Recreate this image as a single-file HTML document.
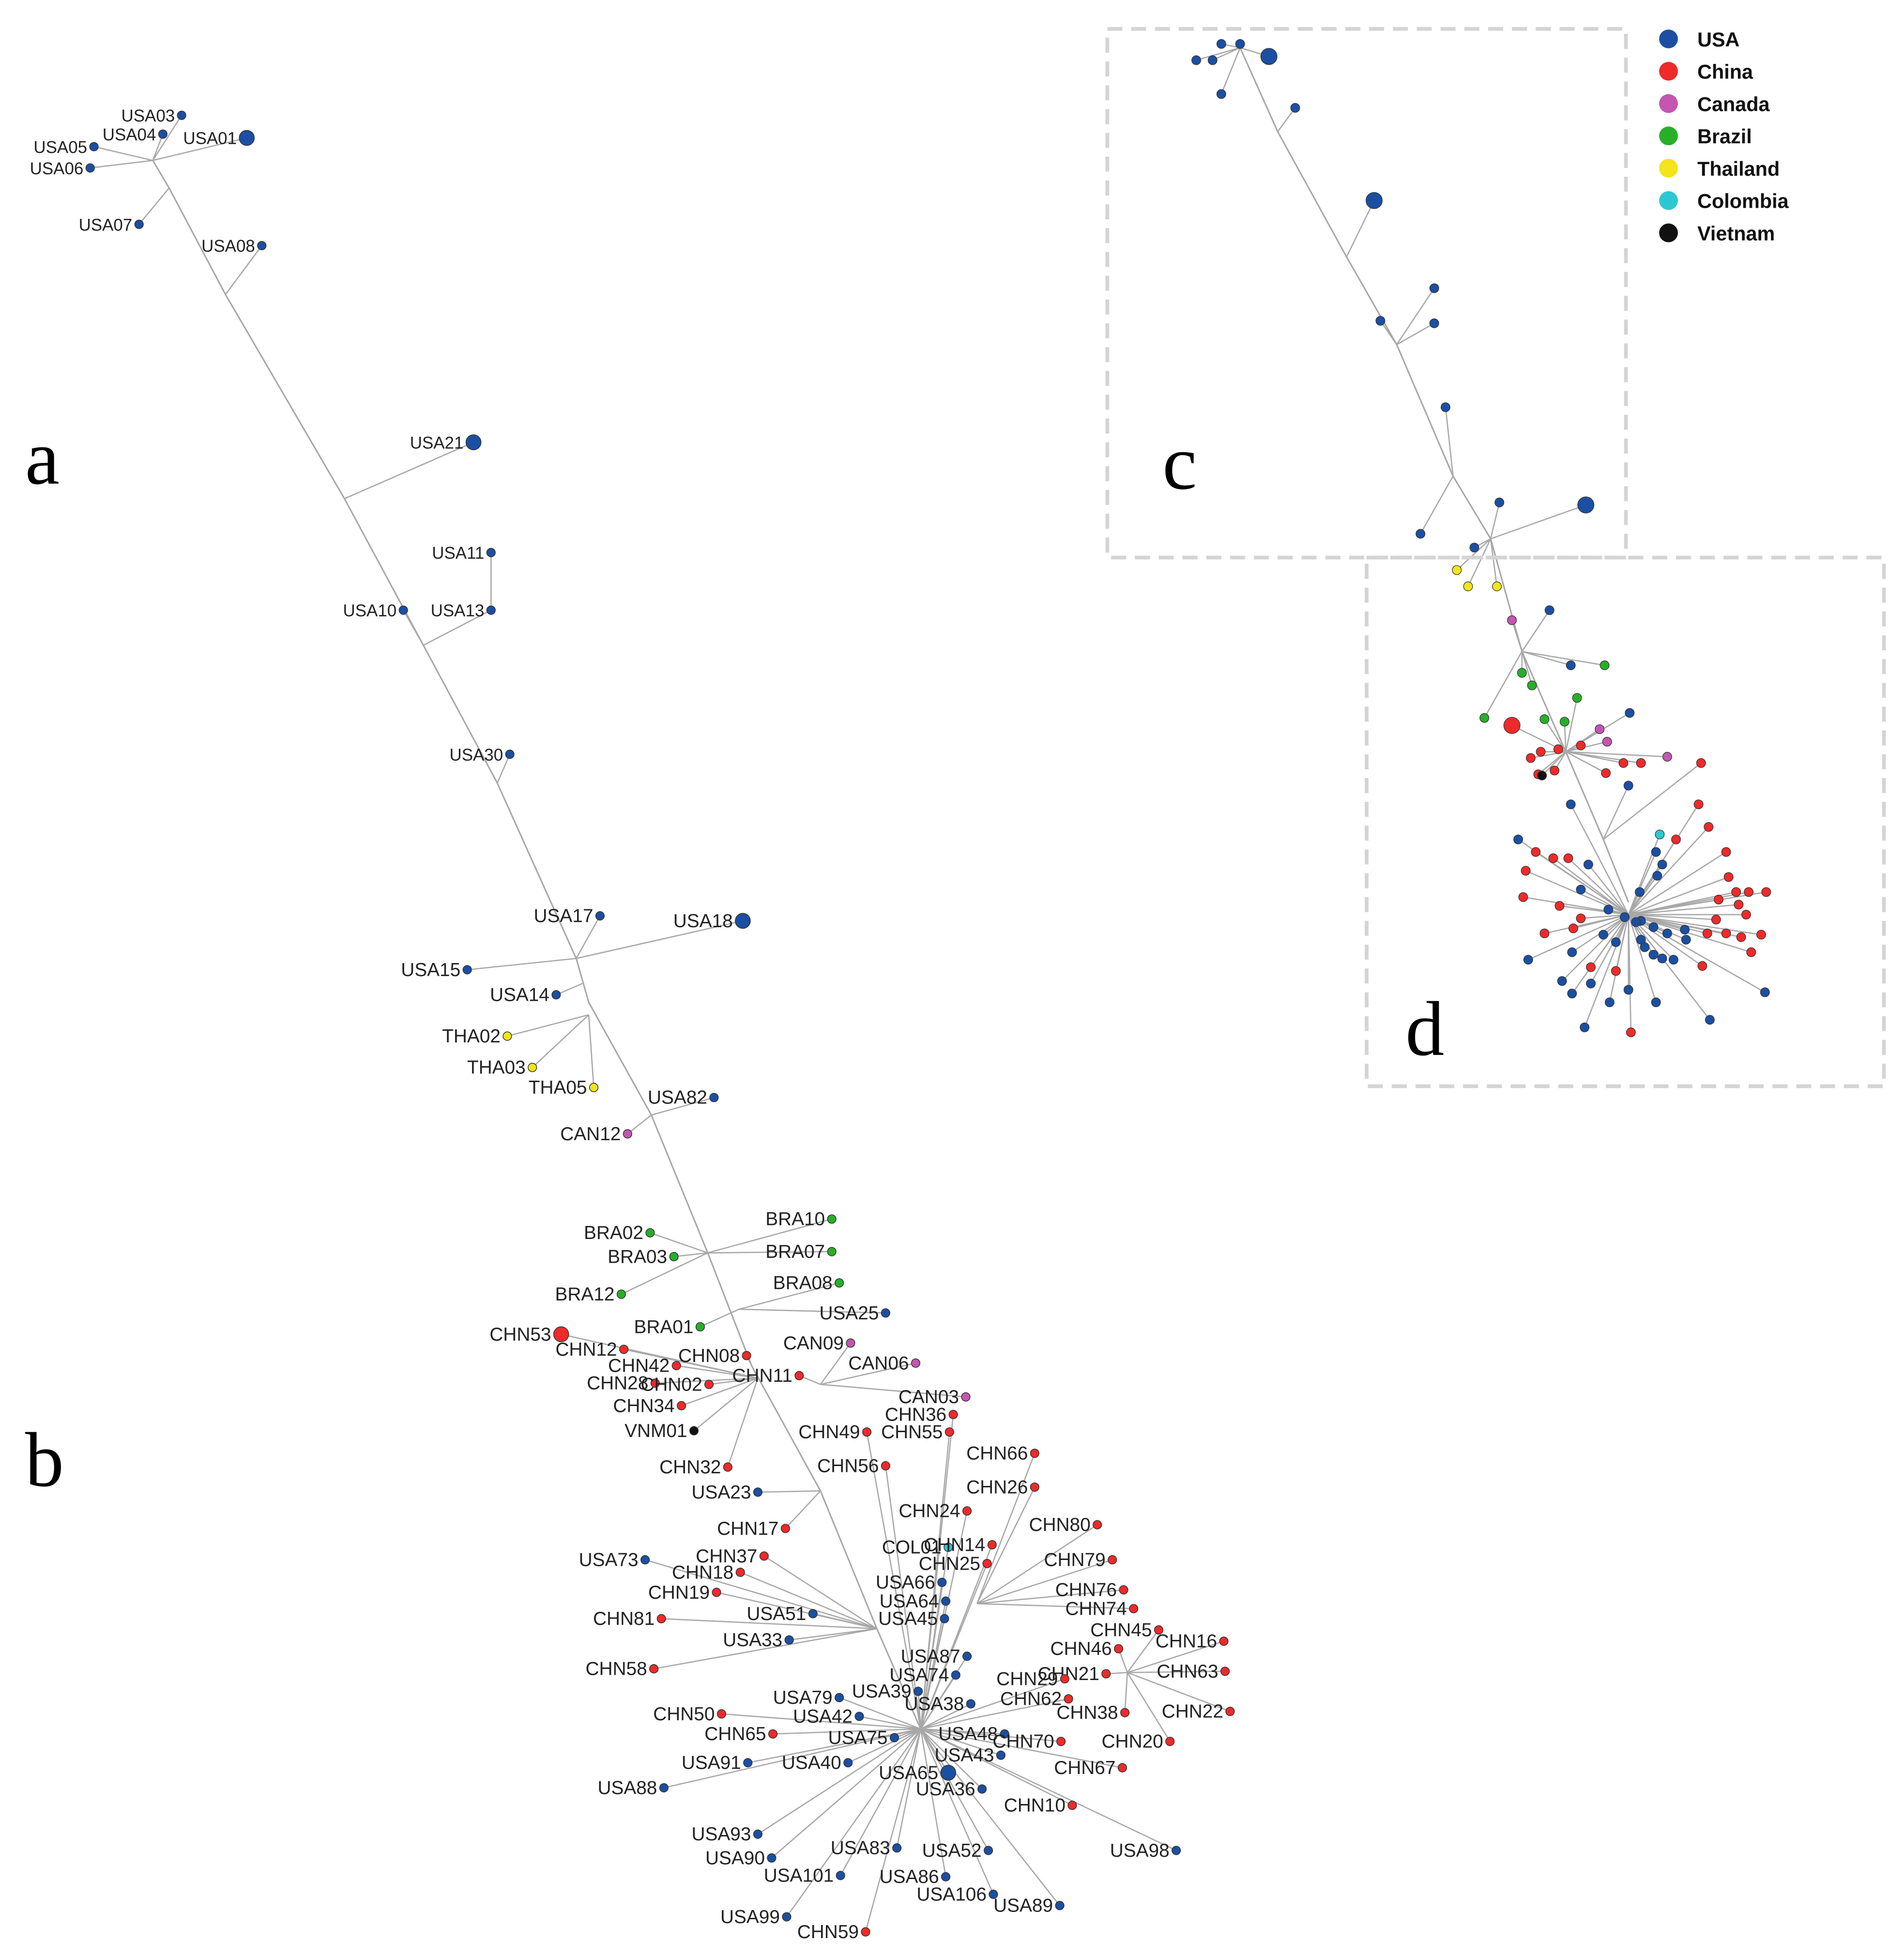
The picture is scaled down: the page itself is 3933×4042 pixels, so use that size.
<!DOCTYPE html>
<html><head><meta charset="utf-8"><style>
html,body{margin:0;padding:0;background:#fff}
svg{display:block}
text{font-family:"Liberation Sans",Arial,sans-serif}
</style></head><body>
<svg id="fig" xmlns="http://www.w3.org/2000/svg" width="3933" height="4042" viewBox="0 0 1520 1562">
<rect width="1520" height="1562" fill="#fff"/>
<g id="edges"></g>
<g id="mini"></g>
<g id="nodes"></g>
<text x="20" y="386" font-size="62" font-family="Liberation Serif,serif" style="font-family:'Liberation Serif',serif">a</text>
<text x="20" y="1186" font-size="62" style="font-family:'Liberation Serif',serif">b</text>
<text x="928" y="390" font-size="62" style="font-family:'Liberation Serif',serif">c</text>
<text x="1122" y="842" font-size="62" style="font-family:'Liberation Serif',serif">d</text>
<rect x="884" y="23" width="414" height="422" fill="none" stroke="#d4d4d4" stroke-width="3" stroke-dasharray="12,7"/>
<rect x="1091" y="445" width="413" height="422" fill="none" stroke="#d4d4d4" stroke-width="3" stroke-dasharray="12,7"/>
<g id="legend"></g>
</svg>
<script>
const NS="http://www.w3.org/2000/svg";
const COL={USA:"#1b4fa3",CHN:"#ee2a2a",CAN:"#c455b0",BRA:"#27b027",THA:"#f3e41c",COL:"#2cc8d2",VNM:"#111111"};
const legendNames=["USA","China","Canada","Brazil","Thailand","Colombia","Vietnam"];
const legendKeys=["USA","CHN","CAN","BRA","THA","COL","VNM"];
// main tree data
const spine=[[122,128],[135,150],[180,235],[275,398],[338,515],[397,625],[460,765],[470,800],[520,890],[565,1000],[600,1090],[655,1190],[700,1300],[735,1380]];
const hubs=[[122,128],[135,150],[180,235],[275,398],[338,515],[397,625],[460,765],[465,785],[470,810],[520,890],[565,1000],[590,1045],[605,1100],[655,1105],[655,1190],[735,1380],[700,1300],[900,1335],[780,1280],[392,487]];
const names=["USA03","USA04","USA05","USA06","USA01","USA07","USA08","USA21","USA11","USA13","USA10","USA30","USA17","USA18","USA15","USA14","THA02","THA03","THA05","USA82","CAN12","BRA10","BRA02","BRA07","BRA03","BRA08","BRA12","USA25","BRA01","CHN53","CAN09","CHN12","CHN08","CAN06","CHN42","CHN11","CHN28","CHN02","CAN03","CHN34","CHN36","VNM01","CHN49","CHN55","CHN66","CHN32","CHN56","CHN26","USA23","CHN24","CHN80","CHN17","COL01","CHN14","USA73","CHN37","CHN79","CHN25","CHN18","USA66","CHN19","USA64","CHN76","USA51","CHN74","USA45","CHN81","CHN45","USA33","CHN16","CHN46","USA87","CHN21","CHN58","CHN63","USA74","CHN29","USA39","USA79","CHN62","USA38","CHN22","CHN50","USA42","CHN38","USA48","CHN65","CHN70","CHN20","USA75","USA91","USA40","USA43","CHN67","USA65","USA36","USA88","CHN10","USA93","USA98","USA83","USA52","USA90","USA101","USA86","USA106","USA89","USA99","CHN59"];
const xs=[145,130,75,72,197,111,209,378,392,392,322,407,479,593,373,444,405,425,474,570,501,664,519,664,538,670,496,707,559,448,679,498,596,731,540,638,523,566,771,544,761,554,692,758,826,581,707,826,605,772,876,627,757,792,515,610,888,788,591,752,572,755,897,649,905,754,528,925,630,977,893,772,883,522,978,763,850,733,670,853,775,982,576,686,898,802,617,847,934,714,597,677,799,896,757,784,530,856,605,939,716,789,616,671,755,793,846,628,691];
const ys=[92,107,117,134,110,179,196,353,441,487,487,602,731,735,774,794,827,852,868,876,905,973,984,999,1003,1024,1033,1048,1059,1065,1072,1077,1082,1088,1090,1098,1104,1105,1115,1122,1129,1142,1143,1143,1160,1171,1170,1187,1191,1206,1217,1220,1235,1233,1245,1242,1245,1248,1255,1263,1271,1278,1269,1288,1284,1292,1292,1301,1309,1310,1316,1322,1336,1332,1334,1337,1340,1350,1355,1356,1360,1366,1368,1370,1367,1384,1384,1390,1390,1387,1407,1407,1401,1411,1415,1428,1427,1441,1464,1477,1475,1477,1483,1497,1498,1512,1521,1530,1542];
const big=["USA01","USA21","USA18","CHN53","USA65"];
const parent=[0,0,0,0,0,1,2,3,19,4,4,5,6,6,6,7,8,8,8,9,9,10,10,10,10,11,10,11,11,12,13,12,12,13,12,13,12,12,13,12,15,12,15,15,18,12,15,18,14,15,18,14,15,15,16,16,18,15,16,15,16,15,18,16,18,15,16,17,16,17,17,15,17,16,17,15,15,15,15,15,15,17,15,15,17,15,15,15,17,15,15,15,15,15,15,15,15,15,15,15,15,15,15,15,15,15,15,15,15];
function mk(tag,attrs,parentEl){const e=document.createElementNS(NS,tag);for(const k in attrs)e.setAttribute(k,attrs[k]);parentEl.appendChild(e);return e;}
const E=document.getElementById("edges"),N=document.getElementById("nodes"),M=document.getElementById("mini"),L=document.getElementById("legend");
let sp=mk("polyline",{points:spine.map(p=>p.join(",")).join(" "),fill:"none",stroke:"#a8a8a8","stroke-width":1.2},E);


for(let i=0;i<names.length;i++){
  const h=hubs[parent[i]];
  const ln=mk("line",{x1:h[0],y1:h[1],x2:xs[i],y2:ys[i],stroke:"#a8a8a8","stroke-width":1},E);
  
  
}
for(let i=0;i<names.length;i++){
  const c=COL[names[i].slice(0,3)];
  const r=big.includes(names[i])?6:3.4;
  const d=mk("circle",{cx:xs[i],cy:ys[i],r:r,fill:c,stroke:"#333","stroke-width":0.6},N);
  
  
  const small=ys[i]<700;
  const t=mk("text",{x:xs[i]-r-2,y:ys[i]+5,"font-size":small?13.5:15,"text-anchor":"end",fill:"#222"},N);
  t.textContent=names[i];
  
  
}
// overview mini tree
const miniSpine=[[990,38],[1020,105],[1075,205],[1115,275],[1160,380],[1190,430],[1215,520],[1250,600],[1280,670],[1300,720]];
const miniX=[975,990,968,955,1013,975,1034,1097,1145,1145,1102,1154,1266,1197,1134,1177,1163,1172,1195,1207,1237,1254,1281,1215,1223,1259,1185,1233,1249,1207,1277,1283,1301,1222,1230,1244,1262,1282,1296,1310,1331,1358,1228,1241,1356,1364,1338,1378,1218,1240,1252,1226,1380,1386,1396,1410,1372,1388,1216,1245,1262,1394,1378,1406,1233,1256,1363,1390,1398,1359,1270,1290,1302,1370,1254,1300,1212,1322,1327,1268,1323,1309,1262,1284,1297,1310,1320,1331,1345,1346,1290,1280,1310,1320,1327,1220,1255,1247,1255,1270,1285,1300,1322,1409,1365,1265,1306,1336,1313,1325,1231];
const miniY=[35,35,48,48,45,75,86,160,230,258,256,325,403,401,426,437,455,468,468,495,487,531,531,537,547,557,573,574,576,579,582,592,569,605,600,598,595,617,609,609,604,609,618,615,642,660,670,680,695,685,685,680,700,712,712,712,718,722,716,723,733,730,745,746,745,741,745,748,760,771,772,775,824,734,642,627,670,680,690,690,699,712,710,726,732,735,740,745,742,750,752,746,750,762,765,766,760,783,793,785,800,790,800,792,814,820,736,766,756,666,619];
const miniC=["USA","USA","USA","USA","USA","USA","USA","USA","USA","USA","USA","USA","USA","USA","USA","USA","THA","THA","THA","CAN","USA","USA","BRA","BRA","BRA","BRA","BRA","BRA","BRA","CHN","CAN","CAN","USA","CHN","CHN","CHN","CHN","CHN","CHN","CHN","CAN","CHN","CHN","CHN","CHN","CHN","CHN","CHN","CHN","CHN","CHN","CHN","CHN","CHN","CHN","CHN","CHN","CHN","CHN","CHN","CHN","CHN","CHN","CHN","CHN","CHN","CHN","CHN","CHN","CHN","CHN","CHN","CHN","CHN","USA","USA","USA","USA","USA","USA","USA","USA","USA","USA","USA","USA","USA","USA","USA","USA","USA","USA","USA","USA","USA","USA","USA","USA","USA","USA","USA","USA","USA","USA","USA","USA","USA","USA","USA","COL","VNM"];
const miniBig=[4,7,12,29];
const ms=mk("polyline",{points:miniSpine.map(p=>p.join(",")).join(" "),fill:"none",stroke:"#a8a8a8","stroke-width":1.2},M);


for(let i=0;i<miniX.length;i++){
  let best=miniSpine[0],bd=1e9;
  for(const p of miniSpine){const d=(p[0]-miniX[i])**2+(p[1]-miniY[i])**2;if(d<bd){bd=d;best=p;}}
  if(miniY[i]>640){best=[1300,730];}
  const ln=mk("line",{x1:best[0],y1:best[1],x2:miniX[i],y2:miniY[i],stroke:"#a8a8a8","stroke-width":1},M);
  
  
}
for(let i=0;i<miniX.length;i++){
  const d=mk("circle",{cx:miniX[i],cy:miniY[i],r:miniBig.includes(i)?6.5:3.6,fill:COL[miniC[i]],stroke:"#333","stroke-width":0.5},M);
  
  
}
for(let i=0;i<legendNames.length;i++){
  const y=31+i*25.8;
  const c=mk("circle",{cx:1332,cy:y,r:7.5,fill:COL[legendKeys[i]]},L);
  
  
  const t=mk("text",{x:1355,y:y+6,"font-size":16,"font-weight":"bold",fill:"#111"},L);
  t.textContent=legendNames[i];
  
  
}
</script>
</body></html>
